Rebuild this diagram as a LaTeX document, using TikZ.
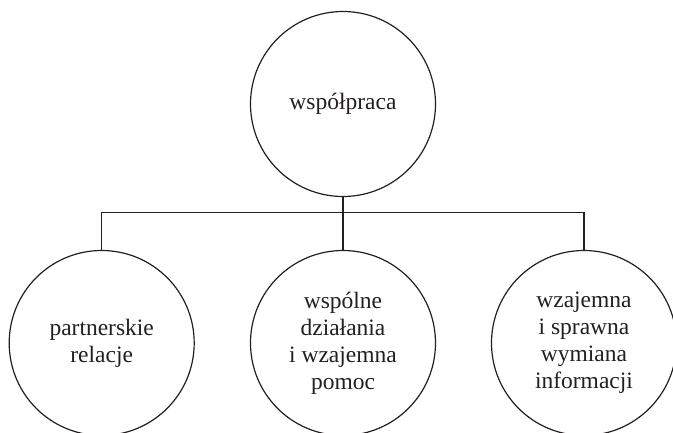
\documentclass[tikz,border=0pt]{standalone}
\usepackage{fontspec}
\setmainfont{Liberation Serif}
\definecolor{ink}{HTML}{231F20}
\begin{document}
\begin{tikzpicture}[x=1pt,y=-1pt]
\tikzset{
  bubble/.style={circle, draw=ink, line width=1.2pt, minimum size=185pt, inner sep=0pt,
    align=center, text=ink, font=\fontsize{23.5}{27}\selectfont},
  conn/.style={draw=ink, line width=1.2pt}
}
\path[use as bounding box, clip] (0,0) rectangle (673,432);
\node[bubble] (top) at (343,104) {współpraca};
\node[bubble] (a) at (101.7,343) {partnerskie\\relacje};
\node[bubble] (b) at (343,343) {wspólne\\działania\\i wzajemna\\pomoc};
\node[bubble] (c) at (584,343) {wzajemna\\i sprawna\\wymiana\\informacji};
\coordinate (bar) at (343,212.7);
\draw[conn] (top.south) -- (bar);
\draw[conn] (a.north) |- (bar) -| (c.north);
\draw[conn] (bar) -- (b.north);
\end{tikzpicture}
\end{document}
